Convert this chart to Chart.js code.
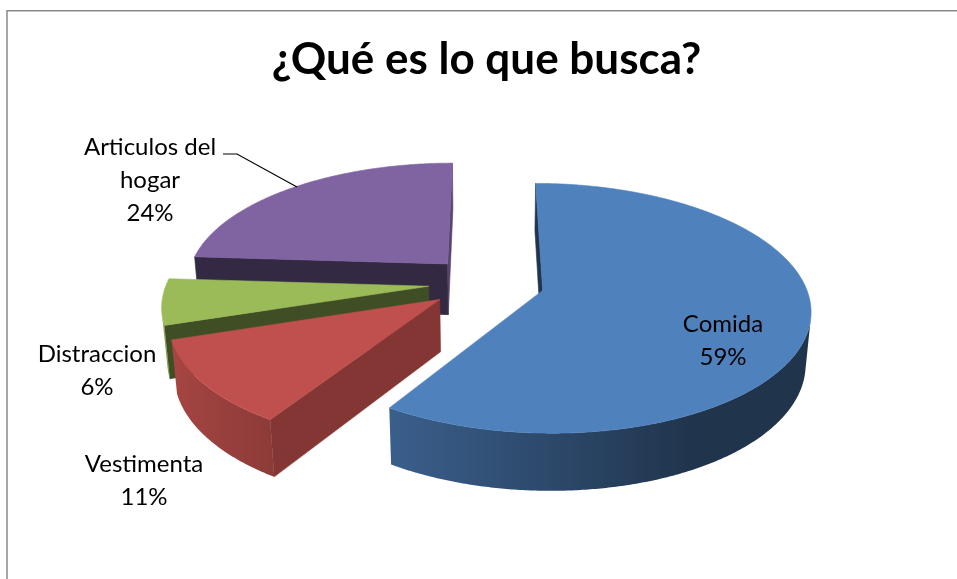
<!DOCTYPE html>
<html>
<head>
<meta charset="utf-8">
<script src="https://cdn.jsdelivr.net/npm/chart.js@4.4.1/dist/chart.umd.min.js"></script>
<style>
  html, body { margin: 0; padding: 0; background: #fff; }
</style>
</head>
<body>
<canvas id="myChart" width="957" height="579"></canvas>
<script>
// data
const categories = ['Comida', 'Vestimenta', 'Distraccion', 'Articulos del hogar']
const values = [59, 11, 6, 24]
const colors = ['#4F81BD', '#C0504D', '#9BBB59', '#8064A2']
const chartTitle = '¿Qué es lo que busca?'

const FONT = 'Lato, "Open Sans", sans-serif'

// darken a hex colour by factor f
const shade = (hex, f) => {
  const n = parseInt(hex.slice(1), 16)
  const r = Math.round(((n >> 16) & 255) * f)
  const g = Math.round(((n >> 8) & 255) * f)
  const b = Math.round((n & 255) * f)
  return `rgb(${r},${g},${b})`
}

// draws the pie arcs as a tilted 3D pie (perspective view)
const pie3d = {
  id: 'pie3d',
  beforeDatasetsDraw(chart) {
    const ctx = chart.ctx
    const arcs = chart.getDatasetMeta(0).data
    const R = arcs[0].outerRadius
    const X0 = arcs[0].x
    const Y0 = arcs[0].y
    const dist = R / 0.16
    const phi = 27.3 * Math.PI / 180
    const sinP = Math.sin(phi), cosP = Math.cos(phi)
    const depth = 0.225 * R
    const camV = -dist * cosP

    const project = (u, v, z) => {
      const d = v * cosP - z * sinP
      const s = dist / (dist + d)
      return [X0 + u * s, Y0 - (v * sinP + z * cosP) * s]
    }

    const fillPoly = (pts, style, strokeColor) => {
      ctx.beginPath()
      pts.forEach((p, k) => k ? ctx.lineTo(p[0], p[1]) : ctx.moveTo(p[0], p[1]))
      ctx.closePath()
      ctx.fillStyle = style
      ctx.fill()
      if (strokeColor) {
        ctx.strokeStyle = strokeColor
        ctx.lineWidth = 0.6
        ctx.stroke()
      }
    }

    const slices = arcs.map((arc, i) => {
      const mid = (arc.startAngle + arc.endAngle) / 2
      const e = arc.options.offset || 0
      return { arc, i, cu: e * Math.cos(mid), cv: -e * Math.sin(mid) }
    }).sort((a, b) => b.cv - a.cv)

    ctx.save()
    slices.forEach(({ arc, i, cu, cv }) => {
      const base = colors[i]
      const a0 = arc.startAngle
      const a1 = arc.endAngle
      const rim = (a, z) => project(cu + R * Math.cos(a), cv - R * Math.sin(a), z)
      const apexTop = project(cu, cv, 0)
      const apexBot = project(cu, cv, -depth)

      // flat cut faces
      const faces = [[a0, a0 - Math.PI / 2], [a1, a1 + Math.PI / 2]]
      faces.forEach(([a, na]) => {
        const nu = Math.cos(na), nv = -Math.sin(na)
        if (nu * (0 - cu) + nv * (camV - cv) <= 0) return
        const t = Math.min(1, Math.max(0, (nu - 0.3) / 0.5))
        const c = shade(base, 0.41 + 0.27 * t)
        fillPoly([apexTop, rim(a, 0), rim(a, -depth), apexBot], c, c)
      })

      // curved outer side: visible runs, one polygon each with an x gradient
      const n = Math.max(2, Math.ceil((a1 - a0) / (Math.PI / 360)))
      const runs = []
      let run = null
      for (let k = 0; k < n; k++) {
        const am = a0 + (a1 - a0) * (k + 0.5) / n
        const nu = Math.cos(am), nv = -Math.sin(am)
        const pu = cu + R * nu, pv = cv + R * nv
        const vis = nu * (0 - pu) + nv * (camV - pv) > 0
        if (vis) {
          if (!run) { run = []; runs.push(run) }
          run.push(k)
        } else {
          run = null
        }
      }
      runs.forEach(ks => {
        const k0 = ks[0], k1 = ks[ks.length - 1] + 1
        const topPts = [], botPts = []
        for (let k = k0; k <= k1; k++) {
          const a = a0 + (a1 - a0) * k / n
          topPts.push(rim(a, 0))
          botPts.unshift(rim(a, -depth))
        }
        const xs = topPts.map(p => p[0])
        const xmin = Math.min(...xs), xmax = Math.max(...xs)
        const grad = ctx.createLinearGradient(xmin, 0, xmax, 0)
        for (let k = k0; k <= k1; k++) {
          const a = a0 + (a1 - a0) * k / n
          const x = topPts[k - k0][0]
          const f = Math.max(0.40, 0.56 - 0.33 * Math.cos(a))
          grad.addColorStop(xmax > xmin ? (x - xmin) / (xmax - xmin) : 0, shade(base, f))
        }
        fillPoly(topPts.concat(botPts), grad)
      })

      // top
      const top = [apexTop]
      for (let k = 0; k <= n; k++) top.push(rim(a0 + (a1 - a0) * k / n, 0))
      fillPoly(top, base, base)
    })
    ctx.restore()
    return false
  }
}

// frame, data labels and leader line
const decorations = {
  id: 'decorations',
  beforeDraw(chart) {
    const ctx = chart.ctx
    ctx.save()
    ctx.fillStyle = '#fff'
    ctx.fillRect(0, 0, chart.width, chart.height)
    ctx.strokeStyle = '#898989'
    ctx.lineWidth = 1.5
    ctx.beginPath()
    ctx.moveTo(7, chart.height)
    ctx.lineTo(7, 10.75)
    ctx.lineTo(chart.width, 10.75)
    ctx.stroke()
    ctx.restore()
  },
  afterDraw(chart) {
    const ctx = chart.ctx
    const total = values.reduce((a, b) => a + b, 0)
    // first baseline and centre x for each label block
    const anchors = [[723, 331.5], [144, 471.5], [97, 361.5], [150, 155]]
    ctx.save()
    ctx.font = `24px ${FONT}`
    ctx.fillStyle = '#000'
    ctx.textAlign = 'center'
    ctx.textBaseline = 'alphabetic'
    categories.forEach((name, i) => {
      // wrap the name into lines of at most 150px
      const lines = []
      let line = ''
      name.split(' ').forEach(w => {
        const test = line ? line + ' ' + w : w
        if (line && ctx.measureText(test).width > 150) {
          lines.push(line)
          line = w
        } else {
          line = test
        }
      })
      lines.push(line)
      lines.push(Math.round(values[i] / total * 100) + '%')
      const [x, y] = anchors[i]
      lines.forEach((l, k) => ctx.fillText(l, x, y + k * 33))
    })
    // leader line for Articulos del hogar
    ctx.strokeStyle = '#000'
    ctx.lineWidth = 1.2
    ctx.beginPath()
    ctx.moveTo(223, 154)
    ctx.lineTo(237, 154)
    ctx.lineTo(297, 187)
    ctx.stroke()
    ctx.restore()
  }
}

const charts = () => {
  const ctx = document.getElementById('myChart')
  new Chart(ctx, {
    type: 'pie',
    data: {
      labels: categories,
      datasets: [{
        data: values,
        backgroundColor: colors,
        borderWidth: 0,
        offset: 58
      }]
    },
    options: {
      responsive: false,
      animation: false,
      events: [],
      radius: 262,
      layout: { padding: { left: 16, right: 0, top: 0, bottom: 109 } },
      plugins: {
        legend: { display: false },
        tooltip: { enabled: false },
        title: {
          display: true,
          text: chartTitle,
          color: '#000',
          font: { family: FONT, size: 44, weight: 'bold' },
          padding: { top: 33, bottom: 10 }
        }
      }
    },
    plugins: [pie3d, decorations]
  })
}

Promise.all([
  document.fonts.load(`bold 44px Lato`),
  document.fonts.load(`24px Lato`)
]).catch(() => {}).then(charts)
</script>
</body>
</html>
